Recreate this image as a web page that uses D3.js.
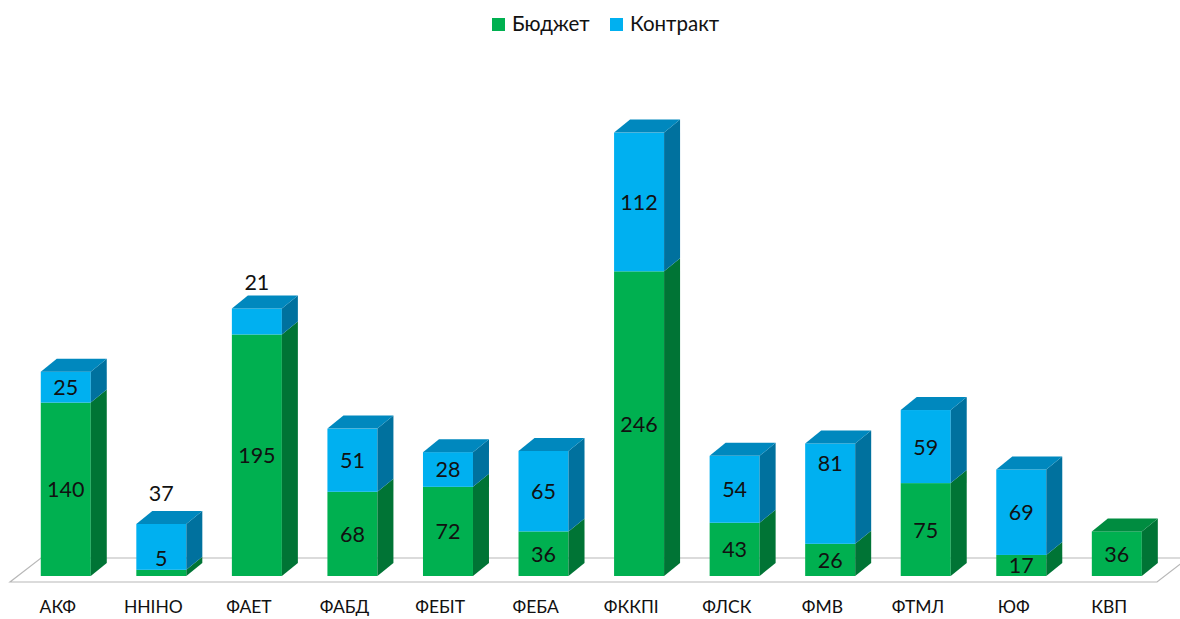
<!DOCTYPE html>
<html>
<head>
<meta charset="utf-8">
<script src="https://cdn.jsdelivr.net/npm/d3@7"></script>
<style>
  html, body { margin: 0; padding: 0; background: #fff; }
  svg { display: block; font-family: Lato, "Open Sans", sans-serif; }
</style>
</head>
<body>
<svg id="chart" width="1180" height="619"></svg>
<script>
// ---- data ----
const categories = ["АКФ", "ННІНО", "ФАЕТ", "ФАБД", "ФЕБІТ", "ФЕБА", "ФККПІ", "ФЛСК", "ФМВ", "ФТМЛ", "ЮФ", "КВП"];
const budget   = [140, 5, 195, 68, 72, 36, 246, 43, 26, 75, 17, 36];
const contract = [25, 37, 21, 51, 28, 65, 112, 54, 81, 59, 69, 0];
const seriesNames = ["Бюджет", "Контракт"];

// ---- style ----
const colors = {
  "Бюджет":   { front: "#00B050", side: "#007435", top: "#008C40" },
  "Контракт": { front: "#00B0F0", side: "#00719E", top: "#0088BE" }
};
const depthX = 16, depthY = -13;
const barW = 50;
// manual label nudges (pixels), as in the reference
const labelNudge = { "ННІНО|Бюджет": -15, "ННІНО|Контракт": -54, "ФАЕТ|Контракт": -39.5, "ФМВ|Контракт": -31 };

const svg = d3.select("#chart");

const x = d3.scaleBand().domain(categories).range([18, 1164.6]).padding(0);
const xl = d3.scaleBand().domain(categories).range([10, 1157]).padding(0);
const y = d3.scaleLinear().domain([0, 400]).range([576, 576 - 400 * 1.2385]);

// floor
const floorY = 582, floorBackY = 558;
svg.append("polygon")
  .attr("points", [[10, floorY], [1157, floorY], [1188, floorBackY], [41, floorBackY]].map(p => p.join(",")).join(" "))
  .attr("fill", "#fff").attr("stroke", "#b8b8b8").attr("stroke-width", 1.2);

// stack
const rows = categories.map((c, i) => ({ cat: c, "Бюджет": budget[i], "Контракт": contract[i] }));
const stacked = d3.stack().keys(seriesNames)(rows);

const g = svg.append("g");
categories.forEach((c, i) => {
  const x0 = x(c) + (x.bandwidth() - barW) / 2;
  const x1 = x0 + barW;
  const bar = g.append("g");
  let topKey = null, topY = null;
  stacked.forEach(s => {
    const d = s[i];
    if (d[1] - d[0] <= 0) return;
    const yb = y(d[0]), yt = y(d[1]);
    const col = colors[s.key];
    bar.append("rect").attr("x", x0).attr("y", yt).attr("width", barW).attr("height", yb - yt).attr("fill", col.front);
    bar.append("polygon")
      .attr("points", [[x1, yt], [x1 + depthX, yt + depthY], [x1 + depthX, yb + depthY], [x1, yb]].map(p => p.join(",")).join(" "))
      .attr("fill", col.side);
    topKey = s.key; topY = yt;
  });
  if (topKey) {
    bar.append("polygon")
      .attr("points", [[x0, topY], [x0 + depthX, topY + depthY], [x1 + depthX, topY + depthY], [x1, topY]].map(p => p.join(",")).join(" "))
      .attr("fill", colors[topKey].top);
  }
  // labels
  stacked.forEach(s => {
    const d = s[i];
    const v = d[1] - d[0];
    if (v <= 0) return;
    const cy = (y(d[0]) + y(d[1])) / 2 + (labelNudge[c + "|" + s.key] || 0);
    g.append("text")
      .attr("x", (x0 + x1) / 2).attr("y", cy)
      .attr("text-anchor", "middle").attr("dominant-baseline", "central")
      .attr("font-size", 21.5).attr("fill", "#111")
      .text(v);
  });
});

// category axis labels
const xAxis = d3.axisBottom(xl).tickSize(0).tickPadding(0);
const ax = svg.append("g").attr("transform", "translate(0,601)").call(xAxis);
ax.select(".domain").remove();
ax.selectAll("text").attr("font-size", 17.5).attr("fill", "#111").attr("font-family", "Lato, sans-serif").attr("dy", "0.71em");

// legend
const legend = svg.append("g");
const legendItems = [{ name: "Бюджет", x: 492 }, { name: "Контракт", x: 610 }];
legendItems.forEach(it => {
  legend.append("rect").attr("x", it.x).attr("y", 18).attr("width", 13).attr("height", 13).attr("fill", colors[it.name].front);
  legend.append("text").attr("x", it.x + 20).attr("y", 31).attr("font-size", 20.5).attr("fill", "#111").text(it.name);
});
</script>
</body>
</html>
